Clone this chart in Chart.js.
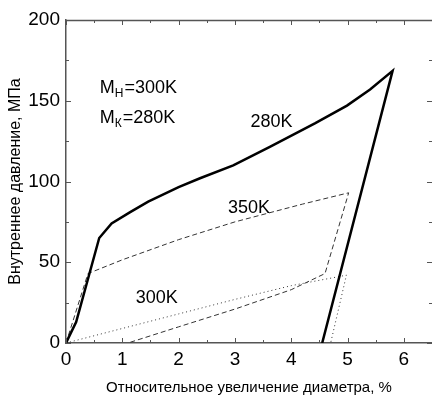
<!DOCTYPE html>
<html>
<head>
<meta charset="utf-8">
<script src="https://cdn.jsdelivr.net/npm/chart.js@4/dist/chart.umd.min.js"></script>
<style>
  html, body { margin: 0; padding: 0; background: #fff; }
  #wrap { width: 432px; height: 400px; }
</style>
</head>
<body>
<div id="wrap"><canvas id="pressureChart" width="432" height="400"></canvas></div>
<script>
// loading / unloading paths, x = diameter increase (%), y = pressure (MPa)
const curve280x = [0, 0.18, 0.59, 0.81, 1.14, 1.46, 2.0, 2.38, 2.97, 3.62, 4.42, 4.99, 5.4, 5.8, 4.55];
const curve280y = [0, 13, 65, 74, 81, 87.5, 96.5, 102, 110, 121.5, 136, 147, 157, 168.5, 0];

const curve350x = [0, 0.39, 1.0, 2.0, 3.0, 4.2, 5.02, 4.6, 4.0, 3.0, 2.0, 1.1];
const curve350y = [0, 43, 51.5, 64, 75, 86, 93, 43, 33, 21, 10, 0];

const curve300x = [0, 1.0, 2.0, 3.0, 4.0, 4.98, 4.7];
const curve300y = [0, 9, 18, 27, 35.5, 42, 0];

const xTicks = [0, 1, 2, 3, 4, 5, 6];
const yTicks = [0, 50, 100, 150, 200];

const FONT = "'Liberation Sans', Arial, sans-serif";

function toPoints(xs, ys) {
  return xs.map((x, i) => ({ x: x, y: ys[i] }));
}

// frame: top edge, inward ticks on every side, in-plot captions
const framePlugin = {
  id: "frame",
  afterDraw(chart) {
    const ctx = chart.ctx;
    const xs = chart.scales.x;
    const ys = chart.scales.y;
    const area = chart.chartArea;
    ctx.save();
    ctx.strokeStyle = "#555";
    ctx.lineWidth = 1.5;
    ctx.beginPath();
    ctx.moveTo(area.left, area.top + 0.5);
    ctx.lineTo(area.right, area.top + 0.5);
    ctx.stroke();

    ctx.lineWidth = 1;
    ctx.beginPath();
    for (let v = 0; v <= 6.5; v += 0.5) {
      const px = Math.round(xs.getPixelForValue(v)) + 0.5;
      const len = Number.isInteger(v) ? 5 : 3;
      ctx.moveTo(px, area.bottom);
      ctx.lineTo(px, area.bottom - len);
      ctx.moveTo(px, area.top);
      ctx.lineTo(px, area.top + len);
    }
    for (let v = 0; v <= 200; v += 25) {
      const py = Math.round(ys.getPixelForValue(v)) + 0.5;
      const len = v % 50 === 0 ? 5 : 3;
      ctx.moveTo(area.left, py);
      ctx.lineTo(area.left + len, py);
      ctx.moveTo(area.right, py);
      ctx.lineTo(area.right - len, py);
    }
    ctx.stroke();

    ctx.fillStyle = "#000";
    ctx.textBaseline = "alphabetic";
    ctx.textAlign = "center";
    ctx.font = "18px " + FONT;
    ctx.fillText("280K", xs.getPixelForValue(3.65), ys.getPixelForValue(134));
    ctx.fillText("350K", xs.getPixelForValue(3.25), ys.getPixelForValue(80.5));
    ctx.fillText("300K", xs.getPixelForValue(1.61), ys.getPixelForValue(24.5));

    // M with Cyrillic subscript
    const drawSub = (x0, y0, sub, rest) => {
      ctx.textAlign = "left";
      ctx.font = "18px " + FONT;
      ctx.fillText("M", x0, y0);
      let x = x0 + ctx.measureText("M").width;
      ctx.font = "12px " + FONT;
      ctx.fillText(sub, x, y0 + 4);
      x += ctx.measureText(sub).width + 1;
      ctx.font = "18px " + FONT;
      ctx.fillText(rest, x, y0);
    };
    drawSub(xs.getPixelForValue(0.6), ys.getPixelForValue(155), "Н", "=300K");
    drawSub(xs.getPixelForValue(0.6), ys.getPixelForValue(136.5), "К", "=280K");
    ctx.restore();
  },
};

new Chart(document.getElementById("pressureChart").getContext("2d"), {
  type: "scatter",
  data: {
    datasets: [
      {
        label: "280K",
        data: toPoints(curve280x, curve280y),
        showLine: true,
        borderColor: "#000",
        borderWidth: 2.5,
        pointRadius: 0,
        tension: 0,
      },
      {
        label: "350K",
        data: toPoints(curve350x, curve350y),
        showLine: true,
        borderColor: "#333",
        borderWidth: 1,
        borderDash: [5, 3],
        pointRadius: 0,
        tension: 0,
      },
      {
        label: "300K",
        data: toPoints(curve300x, curve300y),
        showLine: true,
        borderColor: "#333",
        borderWidth: 1,
        borderDash: [1, 3],
        pointRadius: 0,
        tension: 0,
      },
    ],
  },
  options: {
    responsive: false,
    animation: false,
    devicePixelRatio: 1,
    layout: { padding: { top: 20, right: 0, left: 0, bottom: 0 } },
    plugins: {
      legend: { display: false },
      tooltip: { enabled: false },
    },
    scales: {
      x: {
        type: "linear",
        min: 0,
        max: 6.5,
        afterBuildTicks: (scale) => {
          scale.ticks = xTicks.map((v) => ({ value: v }));
        },
        afterFit: (scale) => {
          scale.height = 57;
        },
        grid: { display: false, drawTicks: false, tickLength: 0 },
        border: { display: true, color: "#555", width: 1.5 },
        ticks: {
          color: "#000",
          padding: 5,
          maxRotation: 0,
          font: { family: FONT, size: 19 },
        },
        title: {
          display: true,
          text: "Относительное увеличение диаметра, %",
          color: "#000",
          padding: { top: 0, bottom: 3 },
          font: { family: FONT, size: 15 },
        },
      },
      y: {
        type: "linear",
        min: 0,
        max: 200,
        afterBuildTicks: (scale) => {
          scale.ticks = yTicks.map((v) => ({ value: v }));
        },
        afterFit: (scale) => {
          scale.width = 66;
        },
        grid: { display: false, drawTicks: false, tickLength: 0 },
        border: { display: true, color: "#555", width: 1.5 },
        ticks: {
          color: "#000",
          padding: 6,
          font: { family: FONT, size: 19 },
        },
        title: {
          display: true,
          text: "Внутреннее давление, МПа",
          color: "#000",
          padding: { top: 6, bottom: 0 },
          font: { family: FONT, size: 16 },
        },
      },
    },
  },
  plugins: [framePlugin],
});
</script>
</body>
</html>
